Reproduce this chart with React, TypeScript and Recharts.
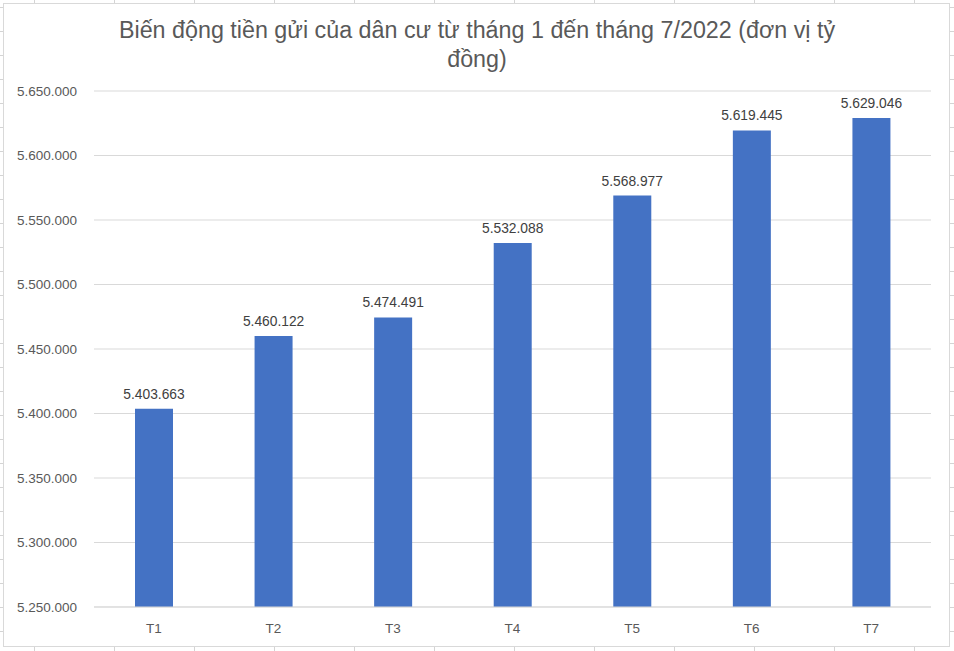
import React from "react";
import { BarChart, Bar, XAxis, YAxis, CartesianGrid, LabelList } from "recharts";

const categories = ["T1", "T2", "T3", "T4", "T5", "T6", "T7"];
const deposits = [5403663, 5460122, 5474491, 5532088, 5568977, 5619445, 5629046];
const yTicks = [5250000, 5300000, 5350000, 5400000, 5450000, 5500000, 5550000, 5600000, 5650000];
const titleLines = ["Biến động tiền gửi của dân cư từ tháng 1 đến tháng 7/2022 (đơn vị tỷ", "đồng)"];

const data = categories.map((name, i) => ({ name, value: deposits[i] }));

const fmt = (v: number) => String(v).replace(/\B(?=(\d{3})+(?!\d))/g, ".");

const FONT = "'Liberation Sans', Arial, sans-serif";

export default function App() {
  return (
    <div
      style={{
        position: "absolute",
        left: 0,
        top: 0,
        width: 954,
        height: 651,
        overflow: "hidden",
        background: "#ffffff",
        backgroundImage:
          "repeating-linear-gradient(to right, transparent 0px, transparent 34px, #d4d4d4 34px, #d4d4d4 35px, transparent 35px, transparent 80px), repeating-linear-gradient(to bottom, transparent 0px, transparent 7px, #d4d4d4 7px, #d4d4d4 8px, transparent 8px, transparent 24px)",
        backgroundPosition: "0 0, 0 0",
        fontFamily: FONT,
      }}
    >
      <div
        style={{
          position: "absolute",
          left: 3,
          top: 3,
          width: 945,
          height: 642,
          background: "#ffffff",
          border: "1px solid #d9d9d9",
        }}
      />
      <div
        style={{
          position: "absolute",
          left: 0,
          top: 16,
          width: 954,
          textAlign: "center",
          fontSize: 23.3,
          lineHeight: "29px",
          color: "#595959",
          fontFamily: FONT,
        }}
      >
        {titleLines[0]}
        <br />
        {titleLines[1]}
      </div>
      <div style={{ position: "absolute", left: 0, top: 0 }}>
        <BarChart
          width={954}
          height={651}
          data={data}
          margin={{ top: 91, right: 23, left: 0, bottom: 0 }}
        >
          <CartesianGrid vertical={false} stroke="#d9d9d9" />
          <XAxis
            dataKey="name"
            height={44}
            tickLine={false}
            axisLine={{ stroke: "#d9d9d9" }}
            tickMargin={10}
            tick={{ fill: "#595959", fontSize: 13.5, fontFamily: FONT }}
          />
          <YAxis
            width={94}
            domain={[5250000, 5650000]}
            ticks={yTicks}
            interval={0}
            tickFormatter={fmt}
            axisLine={false}
            tickLine={false}
            tickMargin={11}
            tick={{ fill: "#595959", fontSize: 13.5, fontFamily: FONT }}
          />
          <Bar dataKey="value" fill="#4472C4" barSize={38} isAnimationActive={false}>
            <LabelList
              dataKey="value"
              position="top"
              offset={10}
              formatter={(v: any) => fmt(Number(v))}
              style={{ fill: "#404040", fontSize: 13.8, fontFamily: FONT }}
            />
          </Bar>
        </BarChart>
      </div>
    </div>
  );
}
